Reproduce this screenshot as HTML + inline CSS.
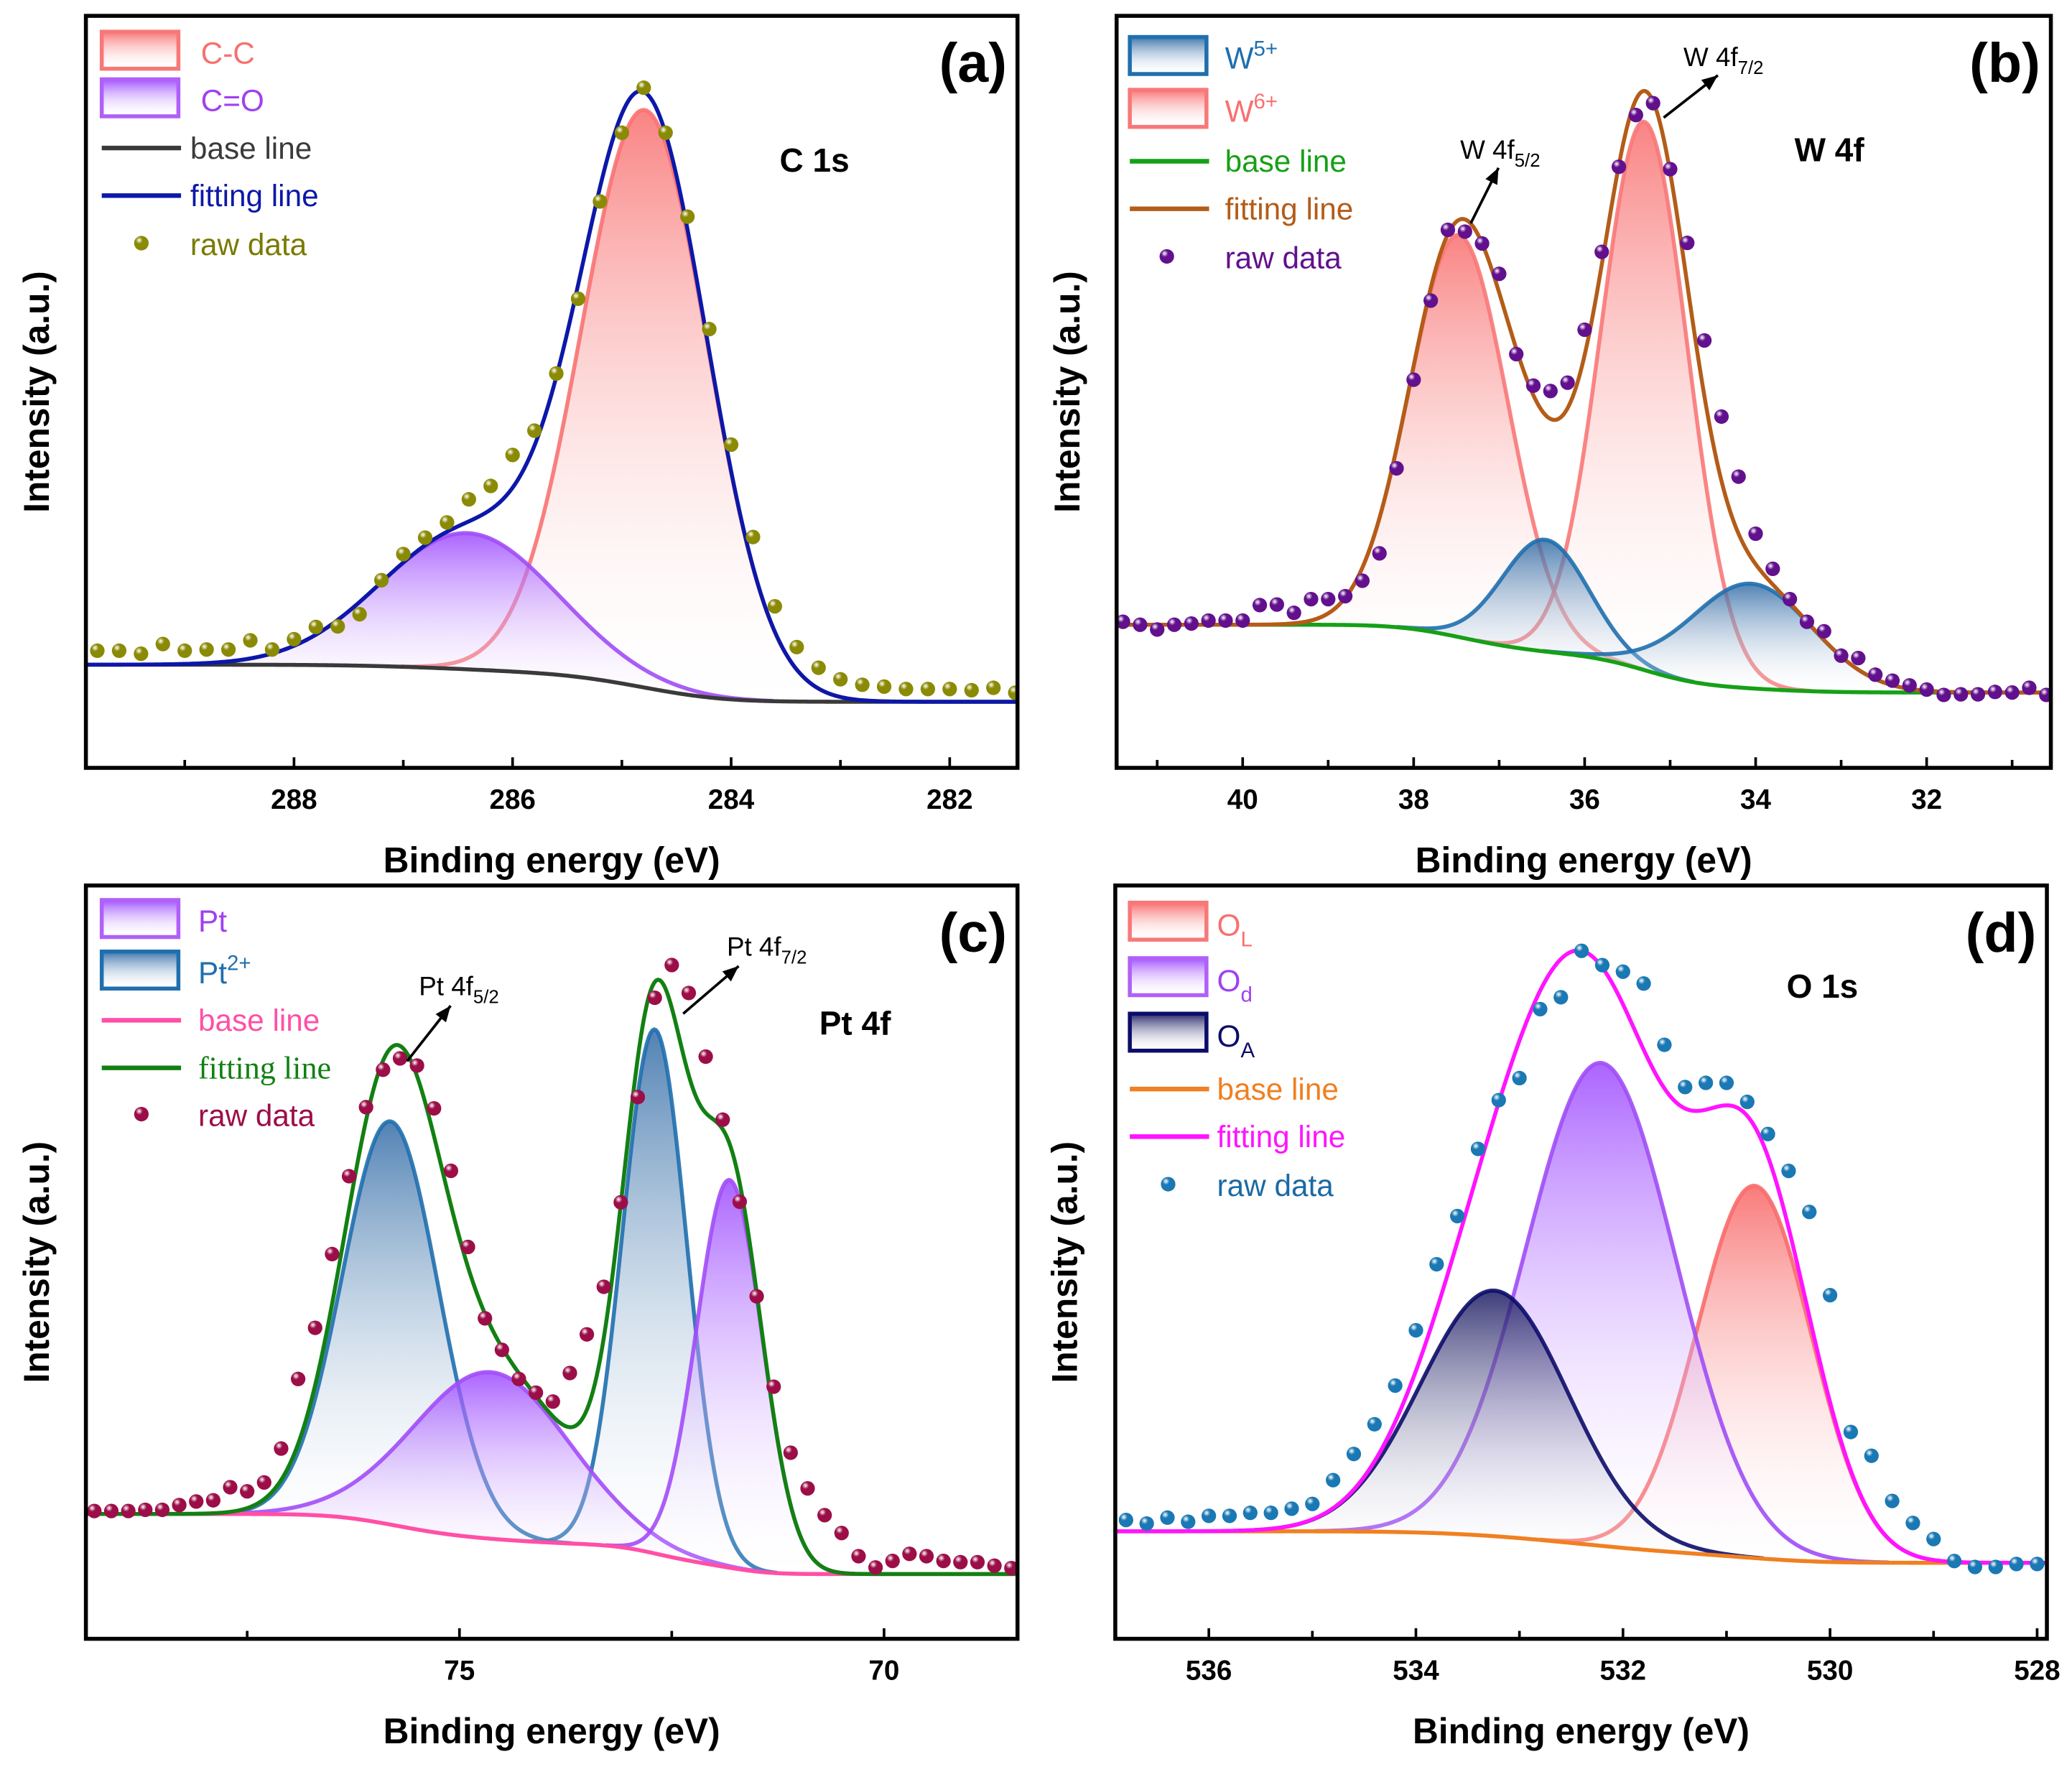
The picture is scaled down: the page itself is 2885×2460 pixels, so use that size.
<!DOCTYPE html>
<html><head><meta charset="utf-8"><title>XPS spectra</title>
<style>
html,body{margin:0;padding:0;background:#fff;}
svg{display:block;font-family:"Liberation Sans",Arial,sans-serif;}
</style></head>
<body>
<svg id="fig" width="2885" height="2460" viewBox="0 0 1568 1337" preserveAspectRatio="none" xmlns="http://www.w3.org/2000/svg">
<defs id="defs"></defs>
</svg>
<script>
// ---------- Panel (a) C 1s data ----------
const aPeakNames = ["C-C", "C=O"];
const aPeakCenters = [284.79, 286.41];
const aPeakHeights = [95, 22.4];
const aPeakFwhm = [1.36, 1.89];
const aBaseLeft = 6.1;
const aRawStart = 289.8;
const aRawStep = 0.2;
const aRawValues = [8.4,8.4,7.9,9.5,8.4,8.6,8.6,10.1,8.6,10.3,12.3,12.4,14.4,20.0,24.3,27.0,29.5,33.3,35.5,40.6,44.6,54.0,66.3,82.3,93.6,101,93.6,79.8,61.3,42.3,27.1,15.7,9.0,5.6,3.7,2.8,2.5,2.1,2.1,2.1,1.9,2.3,1.5];
const aMajorTicks = [288, 286, 284, 282];
const aMinorTicks = [289, 287, 285, 283];

// ---------- Panel (b) W 4f data ----------
const bPeakNames = ["W6+ 4f5/2", "W6+ 4f7/2", "W5+ 4f5/2", "W5+ 4f7/2"];
const bPeakCenters = [37.47, 35.30, 36.46, 34.05];
const bPeakHeights = [67.6, 92.2, 18.8, 17.6];
const bPeakFwhm = [1.35, 1.19, 1.19, 1.68];
const bBaseLeft = 11.4;
const bRawStart = 41.4;
const bRawStep = 0.2;
const bRawValues = [11.9,11.4,10.6,11.4,11.6,12.1,12.1,12.1,14.7,14.8,13.4,15.7,15.7,16.2,18.8,23.4,37.7,52.6,65.9,77.8,77.5,75.5,70.4,56.9,51.6,50.7,52.1,61.0,74.1,88.4,97.1,99.1,88.0,75.6,59.2,46.4,36.3,26.7,20.8,15.7,11.9,10.3,6.2,5.8,3.0,2.0,1.2,0.5,-0.4,-0.3,-0.3,0.1,0,0.8,-0.4];
const bMajorTicks = [40, 38, 36, 34, 32];
const bMinorTicks = [41, 39, 37, 35, 33, 31];

// ---------- Panel (c) Pt 4f data ----------
const cPeakNames = ["Pt2+ 4f5/2", "Pt2+ 4f7/2", "Pt 4f5/2", "Pt 4f7/2"];
const cPeakCenters = [75.81, 72.70, 74.63, 71.82];
const cPeakHeights = [67.8, 88.1, 28, 65.2];
const cPeakFwhm = [1.33, 0.89, 2.17, 0.91];
const cBaseLeft = 10.1;
const cRawStart = 79.3;
const cRawStep = 0.2;
const cRawValues = [10.6,10.6,10.6,10.8,10.8,11.6,12.2,12.4,14.6,13.9,15.4,21.1,32.8,41.4,53.8,66.9,78.5,84.8,86.7,85.5,78.3,67.8,55.0,43.0,37.7,32.8,30.5,29.0,33.8,40.3,48.3,62.5,80.2,96.9,102.4,97.7,87.0,76.4,62.6,46.7,31.5,20.4,14.4,9.9,6.9,3.0,1.1,2.2,3.4,3.0,2.2,2.0,2.0,1.4,1.0];
const cMajorTicks = [75, 70];
const cMinorTicks = [77.5, 72.5];

// ---------- Panel (d) O 1s data ----------
const dPeakNames = ["OL", "Od", "OA"];
const dPeakCenters = [530.73, 532.21, 533.24];
const dPeakHeights = [62.6, 81.2, 41.3];
const dPeakFwhm = [1.30, 1.70, 1.68];
const dBaseLeft = 5.3;
const dRawStart = 536.8;
const dRawStep = 0.2;
const dRawValues = [7.2,6.6,7.6,6.9,7.9,7.9,8.4,8.4,9.1,9.9,13.9,18.3,23.3,29.8,39.1,50.2,58.3,69.6,77.8,81.5,93.1,95.1,102.9,100.5,99.4,97.4,87.1,80.0,80.7,80.7,77.5,72.1,65.9,59.0,45.0,22.0,18.0,10.4,6.7,4.0,0.3,-0.7,-0.7,-0.2,-0.2];
const dMajorTicks = [536, 534, 532, 530, 528];
const dMinorTicks = [535, 533, 531, 529];

const NS = "http://www.w3.org/2000/svg";
const svg = document.getElementById("fig");
const defs = document.getElementById("defs");
function mk(tag, attrs, parent) {
  const el = document.createElementNS(NS, tag);
  for (const k in attrs) el.setAttribute(k, attrs[k]);
  (parent || svg).appendChild(el);
  return el;
}
function grad(id, color, o1, o2) {
  const g = mk("linearGradient", {id: id, x1: 0, y1: 0, x2: 0, y2: 1}, defs);
  mk("stop", {offset: "0", "stop-color": color, "stop-opacity": o1}, g);
  mk("stop", {offset: "1", "stop-color": "#ffffff", "stop-opacity": o2}, g);
}
function ball(id, color) {
  const g = mk("radialGradient", {id: id, cx: "0.35", cy: "0.3", r: "0.7"}, defs);
  mk("stop", {offset: "0", "stop-color": "#ffffff"}, g);
  mk("stop", {offset: "0.35", "stop-color": color}, g);
  mk("stop", {offset: "1", "stop-color": color}, g);
}

const panels = [
  {id: "a", x0: 65, x1: 770, y0: 12, y1: 581, refE: 288, refX: 222.5, k: 82.7, yb: 531, ys: 4.6,
   centers: aPeakCenters, heights: aPeakHeights, fwhm: aPeakFwhm, names: aPeakNames, baseLeft: aBaseLeft,
   rawStart: aRawStart, rawStep: aRawStep, raw: aRawValues, majors: aMajorTicks, minors: aMinorTicks,
   peakColor: ["#f87272", "#a04cf6"], peakFill: ["#f86a6a", "#9a45ff"],
   baseColor: "#3a3a3a", fitColor: "#0c18a8", dotColor: "#8a8a05", yTitleX: 37},
  {id: "b", x0: 845, x1: 1552, y0: 12, y1: 581, refE: 40, refX: 940.4, k: 64.7, yb: 524, ys: 4.5,
   centers: bPeakCenters, heights: bPeakHeights, fwhm: bPeakFwhm, names: bPeakNames, baseLeft: bBaseLeft,
   rawStart: bRawStart, rawStep: bRawStep, raw: bRawValues, majors: bMajorTicks, minors: bMinorTicks,
   peakColor: ["#f87878", "#f87878", "#1f6fae", "#1f6fae"], peakFill: ["#f86a6a", "#f86a6a", "#2d68a4", "#2d68a4"],
   baseColor: "#16a016", fitColor: "#b45c18", dotColor: "#62108e", yTitleX: 817},
  {id: "c", x0: 65, x1: 770, y0: 670, y1: 1240, refE: 75, refX: 347.7, k: 64.26, yb: 1191, ys: 4.5,
   centers: cPeakCenters, heights: cPeakHeights, fwhm: cPeakFwhm, names: cPeakNames, baseLeft: cBaseLeft,
   rawStart: cRawStart, rawStep: cRawStep, raw: cRawValues, majors: cMajorTicks, minors: cMinorTicks,
   peakColor: ["#1f6fae", "#1f6fae", "#a24cf8", "#a24cf8"], peakFill: ["#2d68a4", "#2d68a4", "#9a45ff", "#9a45ff"],
   baseColor: "#ff4fa6", fitColor: "#128012", dotColor: "#9c0e48", yTitleX: 37},
  {id: "d", x0: 844, x1: 1549, y0: 670, y1: 1240, refE: 536, refX: 914.8, k: 78.35, yb: 1182.5, ys: 4.5,
   centers: dPeakCenters, heights: dPeakHeights, fwhm: dPeakFwhm, names: dPeakNames, baseLeft: dBaseLeft,
   rawStart: dRawStart, rawStep: dRawStep, raw: dRawValues, majors: dMajorTicks, minors: dMinorTicks,
   peakColor: ["#f86c6c", "#a04cf6", "#0c0c6a"], peakFill: ["#f86060", "#9a45ff", "#14145e"],
   baseColor: "#f08020", fitColor: "#ff14ff", dotColor: "#1a78b4", yTitleX: 815}
];

function gauss(e, c, h, f) { const t = (e - c) / f; return h * Math.exp(-4 * Math.LN2 * t * t); }

panels.forEach(function (p) {
  const xOf = function (e) { return p.refX + (p.refE - e) * p.k; };
  const yOf = function (v) { return p.yb - v * p.ys; };
  const eLeft = p.refE + (p.refX - p.x0) / p.k;
  const eRight = p.refE - (p.x1 - p.refX) / p.k;
  const N = 500;
  const es = [];
  for (let i = 0; i <= N; i++) es.push(eRight + (eLeft - eRight) * i / N);
  const sums = es.map(function (e) { let s = 0; for (let j = 0; j < p.centers.length; j++) s += gauss(e, p.centers[j], p.heights[j], p.fwhm[j]); return s; });
  const cum = [0];
  for (let i = 1; i <= N; i++) cum.push(cum[i - 1] + (sums[i] + sums[i - 1]) / 2);
  const tot = cum[N] || 1;
  const base = cum.map(function (c) { return p.baseLeft * c / tot; });

  const g = mk("g", {});
  
  
  const clipId = "clip" + p.id;
  const cp = mk("clipPath", {id: clipId}, defs);
  mk("rect", {x: p.x0, y: p.y0, width: p.x1 - p.x0, height: p.y1 - p.y0}, cp);
  const plot = mk("g", {"clip-path": "url(#" + clipId + ")"}, g);
  
  

  for (let j = 0; j < p.centers.length; j++) {
    const gid = "g" + p.id + j;
    grad(gid, p.peakFill[j], 0.92, 0.08);
    const ptsTop = [], ptsBot = [];
    for (let i = 0; i <= N; i++) {
      const v = gauss(es[i], p.centers[j], p.heights[j], p.fwhm[j]);
      if (v < 0.05) continue;
      ptsTop.push(xOf(es[i]).toFixed(2) + "," + yOf(base[i] + v).toFixed(2));
      ptsBot.push(xOf(es[i]).toFixed(2) + "," + yOf(base[i]).toFixed(2));
    }
    const area = mk("path", {d: "M" + ptsTop.join("L") + "L" + ptsBot.reverse().join("L") + "Z", fill: "url(#" + gid + ")", stroke: "none", "fill-opacity": 0.9}, plot);
    
    
    const line = mk("polyline", {points: ptsTop.join(" "), fill: "none", stroke: p.peakColor[j], "stroke-width": 3, "stroke-opacity": 0.9}, plot);
    
    
  }
  const bl = mk("polyline", {points: es.map(function (e, i) { return xOf(e).toFixed(2) + "," + yOf(base[i]).toFixed(2); }).join(" "), fill: "none", stroke: p.baseColor, "stroke-width": 3}, plot);
  
  
  const fl = mk("polyline", {points: es.map(function (e, i) { return xOf(e).toFixed(2) + "," + yOf(base[i] + sums[i]).toFixed(2); }).join(" "), fill: "none", stroke: p.fitColor, "stroke-width": 3}, plot);
  
  
  const bid = "ball" + p.id;
  ball(bid, p.dotColor);
  p.raw.forEach(function (v, i) {
    const e = p.rawStart - i * p.rawStep;
    const c = mk("circle", {cx: xOf(e).toFixed(2), cy: yOf(v).toFixed(2), r: 5.5, fill: "url(#" + bid + ")"}, plot);
    
    
  });
  const fr = mk("rect", {x: p.x0, y: p.y0, width: p.x1 - p.x0, height: p.y1 - p.y0, fill: "none", stroke: "#000", "stroke-width": 3}, g);
  
  
  p.majors.forEach(function (e) {
    const x = xOf(e);
    const t = mk("line", {x1: x, x2: x, y1: p.y1, y2: p.y1 - 8, stroke: "#000", "stroke-width": 2}, g);
    
    
    const lb = mk("text", {x: x, y: p.y1 + 31, "text-anchor": "middle", "font-size": 21, "font-weight": "bold"}, g);
    lb.textContent = String(e);
    
    
  });
  p.minors.forEach(function (e) {
    const x = xOf(e);
    const t = mk("line", {x1: x, x2: x, y1: p.y1, y2: p.y1 - 6, stroke: "#000", "stroke-width": 2}, g);
    
    
  });
  const xt = mk("text", {x: (p.x0 + p.x1) / 2, y: p.y1 + 79, "text-anchor": "middle", "font-size": 27, "font-weight": "bold"}, g);
  xt.textContent = "Binding energy (eV)";
  
  
  const cy = (p.y0 + p.y1) / 2;
  const yt = mk("text", {x: p.yTitleX, y: cy, "text-anchor": "middle", "font-size": 27, "font-weight": "bold", transform: "rotate(-90 " + p.yTitleX + " " + cy + ")"}, g);
  yt.textContent = "Intensity (a.u.)";
  
  
  const pl = mk("text", {x: p.x1 - 8, y: p.y0 + 50, "text-anchor": "end", "font-size": 42, "font-weight": "bold"}, g);
  pl.textContent = "(" + p.id + ")";
  
  
});

function legendSwatch(x, y, gid, color, name) {
  const r = mk("rect", {x: x, y: y, width: 58, height: 28, fill: "url(#" + gid + ")", stroke: color, "stroke-width": 3});
  
  
}
function legendLine(x, y, color, name) {
  const l = mk("line", {x1: x, x2: x + 60, y1: y, y2: y, stroke: color, "stroke-width": 3.5});
  
  
}
function legendDot(x, y, gid, name) {
  const c = mk("circle", {cx: x, cy: y, r: 5.5, fill: "url(#" + gid + ")"});
  
  
}
function txt(x, y, html, size, color, name, extra) {
  const t = mk("text", Object.assign({x: x, y: y, "font-size": size, fill: color}, extra || {}));
  t.innerHTML = html;
  
  
  return t;
}
function arrow(x1, y1, x2, y2, name) {
  const l = mk("line", {x1: x1, y1: y1, x2: x2, y2: y2, stroke: "#000", "stroke-width": 2});
  
  
  const a = Math.atan2(y2 - y1, x2 - x1), L = 12, W = 5;
  const bx = x2 - L * Math.cos(a), by = y2 - L * Math.sin(a);
  const hd = mk("polygon", {points: x2 + "," + y2 + " " + (bx + W * Math.sin(a)) + "," + (by - W * Math.cos(a)) + " " + (bx - W * Math.sin(a)) + "," + (by + W * Math.cos(a)), fill: "#000"});
  
  
}

// (a)
legendSwatch(77, 24, "ga0", "#f87878", "legend-swatch-cc");
txt(152, 48, "C-C", 23, "#f87070", "legend-label-cc");
legendSwatch(77, 60, "ga1", "#b060f8", "legend-swatch-co");
txt(152, 84, "C=O", 23, "#a040f0", "legend-label-co");
legendLine(77, 112, "#3a3a3a", "legend-line-baseline-a");
txt(144, 120, "base line", 23, "#3a3a3a", "legend-label-baseline-a");
legendLine(77, 148, "#0c18a8", "legend-line-fit-a");
txt(144, 156, "fitting line", 23, "#0c18a8", "legend-label-fit-a");
legendDot(107, 184, "balla", "legend-dot-raw-a");
txt(144, 193, "raw data", 23, "#7a7a00", "legend-label-raw-a");
txt(590, 130, "C 1s", 25, "#000", "spectrum-title-a", {"font-weight": "bold"});

// (b)
legendSwatch(855, 28, "gb2", "#1f6fae", "legend-swatch-w5");
txt(927, 52, "W<tspan dy='-10' font-size='16'>5+</tspan>", 23, "#1f6fae", "legend-label-w5");
legendSwatch(855, 68, "gb0", "#f87878", "legend-swatch-w6");
txt(927, 92, "W<tspan dy='-10' font-size='16'>6+</tspan>", 23, "#f87070", "legend-label-w6");
legendLine(855, 122, "#16a016", "legend-line-baseline-b");
txt(927, 130, "base line", 23, "#16a016", "legend-label-baseline-b");
legendLine(855, 158, "#b45c18", "legend-line-fit-b");
txt(927, 166, "fitting line", 23, "#b45c18", "legend-label-fit-b");
legendDot(883, 194, "ballb", "legend-dot-raw-b");
txt(927, 203, "raw data", 23, "#62108e", "legend-label-raw-b");
txt(1358, 122, "W 4f", 25, "#000", "spectrum-title-b", {"font-weight": "bold"});
txt(1105, 120, "W 4f<tspan dy='6' font-size='14'>5/2</tspan>", 20, "#000", "annotation-w4f52");
arrow(1113, 169, 1134, 127, "arrow-w4f52");
txt(1274, 50, "W 4f<tspan dy='6' font-size='14'>7/2</tspan>", 20, "#000", "annotation-w4f72");
arrow(1259, 89, 1300, 57, "arrow-w4f72");

// (c)
legendSwatch(77, 681, "gc2", "#b060f8", "legend-swatch-pt");
txt(150, 705, "Pt", 23, "#a040f0", "legend-label-pt");
legendSwatch(77, 720, "gc0", "#1f6fae", "legend-swatch-pt2");
txt(150, 744, "Pt<tspan dy='-10' font-size='16'>2+</tspan>", 23, "#1f6fae", "legend-label-pt2");
legendLine(77, 772, "#ff4fa6", "legend-line-baseline-c");
txt(150, 780, "base line", 23, "#ff4fa6", "legend-label-baseline-c");
legendLine(77, 808, "#128012", "legend-line-fit-c");
txt(150, 816, "fitting line", 24, "#128012", "legend-label-fit-c", {"font-family": "'Liberation Serif', serif"});
legendDot(107, 843, "ballc", "legend-dot-raw-c");
txt(150, 852, "raw data", 23, "#9c0e48", "legend-label-raw-c");
txt(620, 783, "Pt 4f", 25, "#000", "spectrum-title-c", {"font-weight": "bold"});
txt(317, 753, "Pt 4f<tspan dy='6' font-size='14'>5/2</tspan>", 20, "#000", "annotation-pt4f52");
arrow(308, 803, 341, 761, "arrow-pt4f52");
txt(550, 723, "Pt 4f<tspan dy='6' font-size='14'>7/2</tspan>", 20, "#000", "annotation-pt4f72");
arrow(517, 767, 559, 731, "arrow-pt4f72");

// (d)
legendSwatch(855, 683, "gd0", "#f87878", "legend-swatch-ol");
txt(921, 708, "O<tspan dy='8' font-size='16'>L</tspan>", 23, "#f87070", "legend-label-ol");
legendSwatch(855, 725, "gd1", "#b060f8", "legend-swatch-od");
txt(921, 750, "O<tspan dy='8' font-size='16'>d</tspan>", 23, "#a040f0", "legend-label-od");
legendSwatch(855, 767, "gd2", "#0c0c6a", "legend-swatch-oa");
txt(921, 792, "O<tspan dy='8' font-size='16'>A</tspan>", 23, "#0c0c6a", "legend-label-oa");
legendLine(855, 824, "#f08020", "legend-line-baseline-d");
txt(921, 832, "base line", 23, "#f08020", "legend-label-baseline-d");
legendLine(855, 860, "#ff14ff", "legend-line-fit-d");
txt(921, 868, "fitting line", 23, "#ff14ff", "legend-label-fit-d");
legendDot(884, 896, "balld", "legend-dot-raw-d");
txt(921, 905, "raw data", 23, "#1a6aa4", "legend-label-raw-d");
txt(1352, 755, "O 1s", 25, "#000", "spectrum-title-d", {"font-weight": "bold"});
</script>
</body></html>
